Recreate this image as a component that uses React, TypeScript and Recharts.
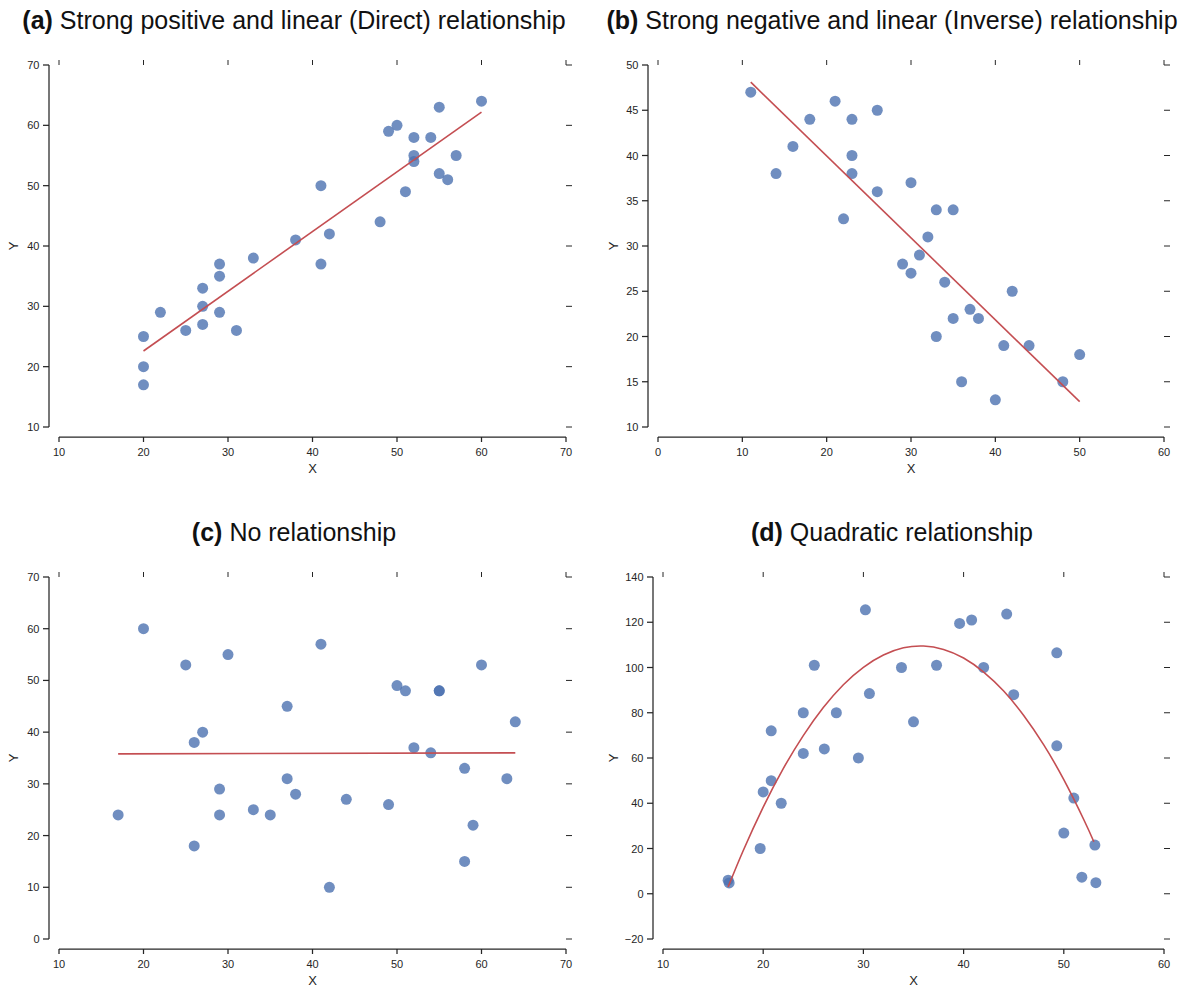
import React from 'react'
import { Scatter, ScatterChart, XAxis, YAxis } from 'recharts'

const FONT = '"Liberation Sans", Arial, Helvetica, sans-serif'
const POINT = '#4C72B0'
const FIT = '#C44E52'
const INK = '#262626'

// (a) direct relationship
const directX = [20, 20, 20, 22, 25, 27, 27, 27, 29, 29, 29, 31, 33, 38, 41, 41, 42, 48, 49, 50, 51, 52, 52, 52, 54, 55, 55, 56, 57, 60]
const directY = [25, 20, 17, 29, 26, 33, 30, 27, 37, 35, 29, 26, 38, 41, 50, 37, 42, 44, 59, 60, 49, 58, 55, 54, 58, 63, 52, 51, 55, 64]
const directFitX = [20, 60]
const directFitY = [22.6, 62.2]

// (b) inverse relationship
const inverseX = [11, 14, 16, 18, 21, 22, 23, 23, 23, 26, 26, 29, 30, 30, 31, 32, 33, 33, 34, 35, 35, 36, 37, 38, 40, 41, 42, 44, 48, 50]
const inverseY = [47, 38, 41, 44, 46, 33, 44, 40, 38, 45, 36, 28, 37, 27, 29, 31, 34, 20, 26, 34, 22, 15, 23, 22, 13, 19, 25, 19, 15, 18]
const inverseFitX = [11, 50]
const inverseFitY = [48.1, 12.8]

// (c) no relationship
const noneX = [17, 20, 25, 26, 26, 27, 29, 29, 30, 33, 35, 37, 37, 38, 41, 42, 44, 49, 50, 51, 52, 54, 55, 55, 58, 58, 59, 60, 63, 64]
const noneY = [24, 60, 53, 38, 18, 40, 29, 24, 55, 25, 24, 45, 31, 28, 57, 10, 27, 26, 49, 48, 37, 36, 48, 48, 33, 15, 22, 53, 31, 42]
const noneFitX = [17, 64]
const noneFitY = [35.8, 36.0]

// (d) quadratic relationship
const quadX = [16.5, 16.6, 19.7, 20.0, 20.8, 20.8, 21.8, 24.0, 24.0, 25.1, 26.1, 27.3, 29.5, 30.2, 30.6, 33.8, 35.0, 37.3, 39.6, 40.8, 42.0, 44.3, 45.0, 49.3, 49.3, 50.0, 51.0, 51.8, 53.1, 53.2]
const quadY = [6.0, 4.8, 20, 45, 50, 72, 40, 80, 62, 101, 64, 80, 60, 125.5, 88.5, 100, 76, 101, 119.5, 121, 100, 123.6, 88, 106.5, 65.4, 26.8, 42.3, 7.3, 21.5, 4.9]
const quadFitX = [16.5, 18, 20, 22, 24, 26, 28, 30, 32, 34, 36, 38, 40, 42, 44, 46, 48, 50, 52, 53]
const quadFitY = [3.0, 19.0, 38.3, 55.3, 69.9, 82.3, 92.4, 100.1, 105.5, 108.7, 109.5, 108.0, 104.2, 98.0, 89.6, 78.8, 65.8, 50.4, 32.7, 23.0]

// ticks
const ticks10to70 = [10, 20, 30, 40, 50, 60, 70]
const ticks0to60 = [0, 10, 20, 30, 40, 50, 60]
const ticks10to60 = [10, 20, 30, 40, 50, 60]
const inverseYTicks = [10, 15, 20, 25, 30, 35, 40, 45, 50]
const noneYTicks = [0, 10, 20, 30, 40, 50, 60, 70]
const quadYTicks = [-20, 0, 20, 40, 60, 80, 100, 120, 140]

const fmt = (v: number) => (v < 0 ? '\u2212' + Math.abs(v) : String(v))

const zip = (xs: number[], ys: number[]) => xs.map((x, i) => ({ x, y: ys[i] }))

const CHART_H = 440
const M_TOP = 25
const M_RIGHT = 24

// bottom tick (offset spine) + the matching small tick on the top edge
function BottomTick(props: any) {
  const { x, y, payload } = props
  return (
    <g>
      <line x1={x} x2={x} y1={M_TOP - 5} y2={M_TOP} stroke={INK} strokeWidth={1} />
      <line x1={x} x2={x} y1={y + 10} y2={y + 15} stroke={INK} strokeWidth={1.25} />
      <text x={x} y={y + 29} textAnchor="middle" fontSize={11} fontFamily={FONT} fill={INK}>
        {fmt(payload.value)}
      </text>
    </g>
  )
}

// left tick (offset spine) + the matching small tick on the right edge
function makeLeftTick(plotRight: number) {
  return (props: any) => {
    const { x, y, payload } = props
    return (
      <g>
        <line x1={plotRight} x2={plotRight + 6} y1={y} y2={y} stroke={INK} strokeWidth={1} />
        <line x1={x - 16} x2={x - 10} y1={y} y2={y} stroke={INK} strokeWidth={1.25} />
        <text x={x - 19.5} y={y + 4} textAnchor="end" fontSize={11} fontFamily={FONT} fill={INK}>
          {fmt(payload.value)}
        </text>
      </g>
    )
  }
}

const Dot = (p: any) => <circle cx={p.cx} cy={p.cy} r={5.5} fill={POINT} fillOpacity={0.8} />
const NoDot = () => <g />

interface PanelProps {
  left: number
  top: number
  width: number
  yAxisWidth: number
  xs: number[]
  ys: number[]
  fitX: number[]
  fitY: number[]
  xTicks: number[]
  yTicks: number[]
  curved?: boolean
}

function Panel({ left, top, width, yAxisWidth, xs, ys, fitX, fitY, xTicks, yTicks, curved }: PanelProps) {
  const xDomain = [xTicks[0], xTicks[xTicks.length - 1]]
  const yDomain = [yTicks[0], yTicks[yTicks.length - 1]]
  const LeftTick = makeLeftTick(width - M_RIGHT)
  return (
    <div style={{ position: 'absolute', left, top }}>
      <ScatterChart width={width} height={CHART_H} margin={{ top: M_TOP, right: M_RIGHT, bottom: 6, left: 0 }}>
        <XAxis
          type="number"
          dataKey="x"
          domain={xDomain}
          ticks={xTicks}
          interval={0}
          height={47}
          tickSize={0}
          tickMargin={0}
          tickLine={false}
          axisLine={{ stroke: INK, strokeWidth: 1.25, transform: 'translate(0,10)' }}
          tick={(p: any) => <BottomTick {...p} />}
          label={{ value: 'X', position: 'insideBottom', offset: 1, fill: INK, fontSize: 13, fontFamily: FONT }}
        />
        <YAxis
          type="number"
          dataKey="y"
          domain={yDomain}
          ticks={yTicks}
          interval={0}
          width={yAxisWidth}
          tickSize={0}
          tickMargin={0}
          tickLine={false}
          axisLine={{ stroke: INK, strokeWidth: 1.25, transform: 'translate(-10,0)' }}
          tick={(p: any) => <LeftTick {...p} />}
          label={{
            value: 'Y',
            angle: -90,
            position: 'insideLeft',
            offset: 13,
            fill: INK,
            fontSize: 13,
            fontFamily: FONT,
            style: { textAnchor: 'middle' },
          }}
        />
        <Scatter data={zip(xs, ys)} shape={Dot} isAnimationActive={false} />
        <Scatter
          data={zip(fitX, fitY)}
          line={{ stroke: FIT, strokeWidth: 1.6 }}
          lineJointType={curved ? 'natural' : 'linear'}
          shape={NoDot}
          isAnimationActive={false}
        />
      </ScatterChart>
    </div>
  )
}

function Title({ cx, top, tag, text }: { cx: number; top: number; tag: string; text: string }) {
  return (
    <div
      style={{
        position: 'absolute',
        left: cx - 320,
        width: 640,
        top,
        textAlign: 'center',
        fontFamily: FONT,
        fontSize: 25,
        lineHeight: '25px',
        color: '#111',
        whiteSpace: 'nowrap',
      }}
    >
      <b>{tag}</b> {text}
    </div>
  )
}

export default function App() {
  return (
    <div style={{ position: 'absolute', left: 0, top: 0, width: 1188, height: 987, background: '#fff', overflow: 'hidden' }}>
      <Title cx={294} top={8} tag="(a)" text="Strong positive and linear (Direct) relationship" />
      <Title cx={892} top={8} tag="(b)" text="Strong negative and linear (Inverse) relationship" />
      <Title cx={294} top={520} tag="(c)" text="No relationship" />
      <Title cx={892} top={520} tag="(d)" text="Quadratic relationship" />

      <Panel left={0} top={40} width={590} yAxisWidth={59} xs={directX} ys={directY} fitX={directFitX} fitY={directFitY} xTicks={ticks10to70} yTicks={ticks10to70} />
      <Panel left={600} top={40} width={588} yAxisWidth={58} xs={inverseX} ys={inverseY} fitX={inverseFitX} fitY={inverseFitY} xTicks={ticks0to60} yTicks={inverseYTicks} />
      <Panel left={0} top={552} width={590} yAxisWidth={59} xs={noneX} ys={noneY} fitX={noneFitX} fitY={noneFitY} xTicks={ticks10to70} yTicks={noneYTicks} />
      <Panel left={600} top={552} width={588} yAxisWidth={63} xs={quadX} ys={quadY} fitX={quadFitX} fitY={quadFitY} xTicks={ticks10to60} yTicks={quadYTicks} curved />
    </div>
  )
}
